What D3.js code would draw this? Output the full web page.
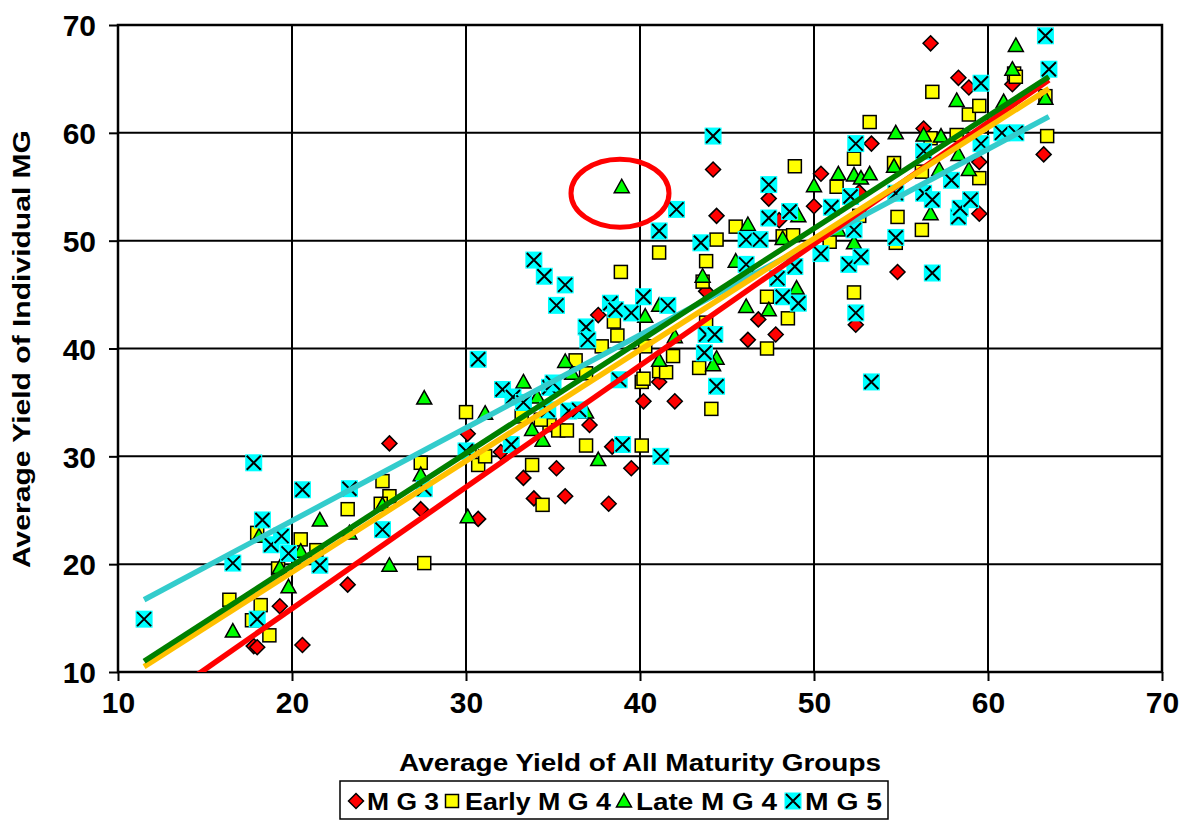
<!DOCTYPE html>
<html>
<head>
<meta charset="utf-8">
<script src="https://cdn.jsdelivr.net/npm/d3@7"></script>
<style>
  body { margin: 0; background: #fff; }
  text { font-family: "Liberation Sans", Arial, sans-serif; font-weight: bold; }
</style>
</head>
<body>
<div id="renderer"></div>
<script>
// axis ticks
const xTicks = [10, 20, 30, 40, 50, 60, 70];
const yTicks = [10, 20, 30, 40, 50, 60, 70];

// series: [average yield of all MGs, yield of the MG]
const mg3 = [
  [17.8,12.4],[18.0,12.3],[19.3,16.1],[20.6,12.5],[23.2,18.1],[25.6,31.2],[27.4,25.1],[30.1,32.1],
  [30.7,24.2],[32.0,30.4],[33.3,28.0],[33.9,26.1],[35.2,28.9],[35.7,26.3],[37.1,32.9],[37.6,43.1],
  [38.2,25.6],[38.4,30.9],[39.5,28.9],[40.2,35.1],[41.1,36.9],[42.0,35.1],[43.8,45.3],[44.2,56.6],
  [44.4,52.3],[46.2,40.8],[46.8,42.7],[47.4,53.9],[47.8,41.3],[48.0,51.9],[50.0,53.2],[50.4,56.2],
  [52.4,42.2],[52.6,54.5],[53.3,59.0],[54.8,47.1],[56.3,60.4],[56.7,68.3],[58.3,65.1],[58.9,64.2],
  [59.5,57.3],[59.5,52.5],[61.4,64.5],[63.2,58.0]
];
const earlyMg4 = [
  [16.4,16.7],[17.7,14.8],[18.2,16.2],[18.7,13.4],[18.0,22.9],[19.2,19.6],[20.5,22.3],[21.4,21.3],
  [23.2,25.1],[25.2,27.7],[25.6,26.3],[25.1,25.6],[27.4,29.4],[27.6,20.1],[30.0,34.1],[30.2,30.4],
  [30.7,29.2],[31.1,30.0],[33.2,33.7],[33.8,29.2],[34.4,25.5],[34.8,32.9],[34.3,33.4],[35.3,32.4],
  [35.8,32.4],[36.3,38.9],[36.9,31.0],[36.9,37.7],[37.8,40.2],[38.5,42.5],[38.7,41.2],[38.9,47.1],
  [40.1,36.9],[40.1,31.0],[40.2,37.2],[40.3,40.2],[41.1,48.9],[41.1,37.9],[41.5,37.8],[41.9,39.3],
  [43.4,38.2],[43.6,46.2],[43.8,48.1],[43.8,42.4],[44.1,34.4],[44.4,50.1],[45.5,51.3],[47.3,40.0],
  [47.3,44.8],[48.2,50.4],[48.5,42.8],[48.8,50.5],[48.9,56.9],[50.9,49.9],[51.3,55.0],[52.3,57.6],
  [52.3,45.2],[52.6,52.3],[53.2,61.0],[54.6,57.2],[54.7,49.8],[54.8,52.2],[56.2,51.0],[56.2,56.4],
  [56.7,59.5],[56.8,63.8],[58.2,59.8],[58.9,61.7],[59.5,62.5],[59.5,55.8],[61.5,65.5],[61.6,65.2],
  [63.3,63.4],[63.4,59.7]
];
const lateMg4 = [
  [16.6,13.8],[19.8,17.9],[19.3,19.7],[18.1,22.6],[20.5,21.2],[21.6,24.1],[23.3,22.9],[25.2,25.5],
  [25.6,19.9],[27.4,28.3],[27.6,35.4],[30.1,24.4],[31.1,34.0],[33.3,36.9],[33.8,32.5],[34.1,35.5],
  [34.4,31.5],[35.7,38.8],[36.1,37.7],[36.9,34.1],[37.6,29.7],[38.95,55.0],[40.3,43.0],[41.1,44.0],
  [41.1,38.9],[42.0,41.1],[43.6,46.7],[44.4,39.1],[44.2,38.5],[45.5,48.1],[46.1,43.9],[46.2,51.5],
  [47.4,43.6],[48.2,50.2],[49.0,45.6],[49.1,52.3],[50.0,55.1],[51.4,56.2],[52.3,56.1],[52.7,55.8],
  [53.2,56.2],[52.3,49.8],[51.4,51.0],[54.6,56.9],[54.7,60.0],[56.3,59.8],[56.7,52.5],[57.2,56.6],
  [57.3,59.7],[58.2,63.0],[58.3,58.0],[58.9,56.6],[60.9,62.9],[61.4,65.9],[61.6,68.1],[63.3,63.2]
];
const mg5 = [
  [11.5,14.9],[16.6,20.1],[17.8,29.4],[18.0,14.9],[18.3,24.1],[18.8,21.8],[19.4,22.6],[19.8,21.0],
  [20.6,26.9],[21.6,19.9],[23.3,27.0],[25.2,23.2],[27.6,27.0],[30.0,30.5],[30.7,39.0],[32.1,36.2],
  [32.6,31.1],[32.7,35.5],[33.3,35.0],[33.9,48.2],[34.5,46.7],[34.7,34.3],[34.8,36.4],[35.0,36.8],
  [35.2,44.0],[35.7,45.9],[35.9,34.2],[36.5,34.3],[36.9,42.0],[37.0,40.8],[38.3,44.2],[38.6,43.6],
  [38.8,37.1],[39.0,31.1],[39.5,43.3],[40.2,44.8],[41.1,50.9],[41.2,30.0],[41.6,44.0],[42.1,52.9],
  [43.5,49.8],[43.7,39.6],[43.8,41.3],[44.2,59.7],[44.3,41.3],[44.4,36.5],[46.1,50.1],[46.1,47.8],
  [46.9,50.1],[47.4,55.2],[47.4,52.1],[47.9,46.5],[48.2,44.8],[48.6,52.7],[48.9,47.6],[49.1,44.2],
  [50.4,48.8],[51.0,53.1],[52.0,47.8],[52.1,54.1],[52.3,51.0],[52.4,59.0],[52.4,43.3],[52.7,48.5],
  [53.3,36.9],[54.7,54.4],[54.7,50.3],[56.3,58.3],[56.3,54.4],[56.8,53.8],[56.8,47.0],[57.9,55.6],
  [58.3,52.2],[58.4,53.0],[59.0,53.8],[59.6,64.6],[59.6,59.0],[60.8,60.0],[61.6,60.0],[63.3,69.0],
  [63.5,65.9]
];

// linear fits: [x0, y0, x1, y1]
const fitMg3 = [11.5, 6.3, 63.5, 64.9];
const fitEarly = [11.5, 10.5, 63.5, 64.1];
const fitLate = [11.5, 11.0, 63.5, 65.2];
const fitMg5 = [11.5, 16.7, 63.5, 61.5];

// highlighted outlier
const outlier = [38.85, 54.4];

const width = 1188;
const height = 822;
const plot = { left: 118, right: 1162, top: 25, bottom: 672 };

const svg = d3.select("#renderer")
    .append("svg")
    .attr("width", width)
    .attr("height", height);

const x = d3.scaleLinear().domain([10, 70]).range([plot.left, plot.right]);
const y = d3.scaleLinear().domain([10, 70]).range([plot.bottom, plot.top]);

svg.append("defs").append("clipPath").attr("id", "clip")
    .append("rect")
    .attr("x", plot.left).attr("y", plot.top)
    .attr("width", plot.right - plot.left).attr("height", plot.bottom - plot.top);

// gridlines
svg.selectAll(".gx").data(xTicks.slice(1, -1)).join("line")
    .attr("x1", d => x(d)).attr("x2", d => x(d))
    .attr("y1", plot.top).attr("y2", plot.bottom)
    .attr("stroke", "#000").attr("stroke-width", 2);
svg.selectAll(".gy").data(yTicks.slice(1, -1)).join("line")
    .attr("y1", d => y(d)).attr("y2", d => y(d))
    .attr("x1", plot.left).attr("x2", plot.right)
    .attr("stroke", "#000").attr("stroke-width", 2);

// frame
svg.append("rect")
    .attr("x", plot.left).attr("y", plot.top)
    .attr("width", plot.right - plot.left).attr("height", plot.bottom - plot.top)
    .attr("fill", "none").attr("stroke", "#000").attr("stroke-width", 2.5);

// axes
const xAxis = svg.append("g")
    .attr("transform", `translate(0,${plot.bottom})`)
    .call(d3.axisBottom(x).tickValues(xTicks).tickSize(9).tickPadding(11));
const yAxis = svg.append("g")
    .attr("transform", `translate(${plot.left},0)`)
    .call(d3.axisLeft(y).tickValues(yTicks).tickSize(9).tickPadding(13));
[xAxis, yAxis].forEach(g => {
    g.select(".domain").remove();
    g.selectAll("line").attr("stroke", "#000").attr("stroke-width", 2);
    g.selectAll("text")
        .attr("fill", "#000")
        .style("font-size", "30px")
        .style("font-weight", "bold")
        .style("font-family", "'Liberation Sans', Arial, sans-serif");
});
yAxis.selectAll("text").attr("dy", "0.36em");

// axis titles
svg.append("text")
    .attr("x", 640).attr("y", 771)
    .attr("text-anchor", "middle")
    .attr("textLength", 482).attr("lengthAdjust", "spacingAndGlyphs")
    .style("font-size", "23px")
    .text("Average Yield of All Maturity Groups");
svg.append("text")
    .attr("transform", "translate(30,349) rotate(-90)")
    .attr("text-anchor", "middle")
    .attr("textLength", 438).attr("lengthAdjust", "spacingAndGlyphs")
    .style("font-size", "23px")
    .text("Average Yield of Individual MG");

// markers
function diamond(g) {
    g.append("path").attr("d", "M0,-7.5L7.5,0L0,7.5L-7.5,0Z")
        .attr("fill", "#ff0000").attr("stroke", "#000").attr("stroke-width", 1.5);
}
function square(g) {
    g.append("rect").attr("x", -6.5).attr("y", -6.5).attr("width", 13).attr("height", 13)
        .attr("fill", "#ffff00").attr("stroke", "#000").attr("stroke-width", 1.5);
}
function triangle(g) {
    g.append("path").attr("d", "M0,-7.5L7.5,6L-7.5,6Z")
        .attr("fill", "#00ff00").attr("stroke", "#000").attr("stroke-width", 1.5);
}
function cross(g) {
    g.append("rect").attr("x", -8.5).attr("y", -8.5).attr("width", 17).attr("height", 17)
        .attr("fill", "#00ffff");
    g.append("path").attr("d", "M-7,-7L7,7M7,-7L-7,7")
        .attr("stroke", "#000").attr("stroke-width", 2);
}

const seriesList = [
    { data: mg3, marker: diamond },
    { data: earlyMg4, marker: square },
    { data: lateMg4, marker: triangle },
    { data: mg5, marker: cross }
];
seriesList.forEach(s => {
    svg.append("g").selectAll("g").data(s.data).join("g")
        .attr("transform", d => `translate(${x(d[0])},${y(d[1])})`)
        .each(function () { s.marker(d3.select(this)); });
});

// fit lines
const fits = [
    { f: fitMg5, color: "#33cccc" },
    { f: fitMg3, color: "#ff0000" },
    { f: fitEarly, color: "#ffc000" },
    { f: fitLate, color: "#008000" }
];
const lineG = svg.append("g").attr("clip-path", "url(#clip)");
fits.forEach(l => {
    lineG.append("line")
        .attr("x1", x(l.f[0])).attr("y1", y(l.f[1]))
        .attr("x2", x(l.f[2])).attr("y2", y(l.f[3]))
        .attr("stroke", l.color).attr("stroke-width", 5.5);
});

// red circle around outlier
svg.append("ellipse")
    .attr("cx", x(outlier[0])).attr("cy", y(outlier[1]))
    .attr("rx", 49).attr("ry", 34)
    .attr("fill", "none").attr("stroke", "#ff0000").attr("stroke-width", 5);

// legend
const legend = svg.append("g");
legend.append("rect")
    .attr("x", 340).attr("y", 781).attr("width", 548).attr("height", 38)
    .attr("fill", "#fff").attr("stroke", "#000").attr("stroke-width", 1.5);
const legendItems = [
    { name: "M G 3", marker: diamond, mx: 356, tx: 367, len: 72 },
    { name: "Early M G 4", marker: square, mx: 452, tx: 465, len: 146 },
    { name: "Late M G 4", marker: triangle, mx: 624, tx: 636, len: 141 },
    { name: "M G 5", marker: cross, mx: 793, tx: 805, len: 77 }
];
legendItems.forEach(it => {
    const g = legend.append("g").attr("transform", `translate(${it.mx},801)`);
    it.marker(g);
    legend.append("text")
        .attr("x", it.tx).attr("y", 810)
        .attr("textLength", it.len).attr("lengthAdjust", "spacingAndGlyphs")
        .style("font-size", "24px")
        .text(it.name);
});
</script>
</body>
</html>
